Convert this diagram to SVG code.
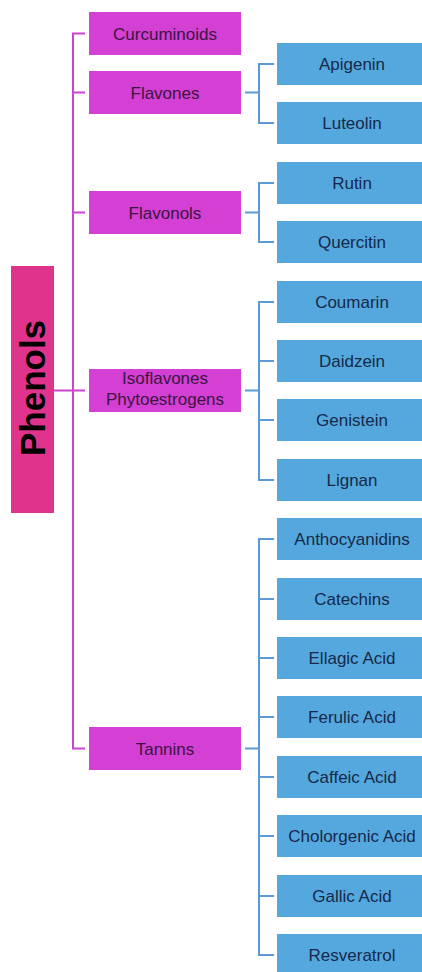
<svg xmlns="http://www.w3.org/2000/svg" width="422" height="972" viewBox="0 0 422 972">
<style>
.mg{fill:#d43fd4}
.bl{fill:#55a8dd}
.ph{fill:#e0338c}
.mt{font-family:"Liberation Sans",Arial,sans-serif;font-size:17px;fill:#3a1640;text-anchor:middle}
.bt{font-family:"Liberation Sans",Arial,sans-serif;font-size:17px;fill:#16294a;text-anchor:middle}
.pt{font-family:"Liberation Sans",Arial,sans-serif;font-size:35px;font-weight:bold;fill:#000;text-anchor:middle}
.lm{fill:none;stroke:#cc44cc;stroke-width:2}
.lb{fill:none;stroke:#5b9bd5;stroke-width:2}
</style>
<rect width="422" height="972" fill="#fff"/>
<g id="connectors">
<path class="lm" d="M54 390.5H73M85 33.5H73V748.5H85M73 92.5H85M73 212.5H85M73 390.5H85"/>
<path class="lb" d="M245 92.5H259M274 64H259V123H274"/>
<path class="lb" d="M245 212.5H259M274 183H259V242H274"/>
<path class="lb" d="M245 390.5H259M274 302H259V480H274M259 361H274M259 420H274"/>
<path class="lb" d="M245 748.5H259M274 539H259V955H274M259 599H274M259 658H274M259 717H274M259 777H274M259 836H274M259 896H274"/>
</g>
<g id="phenols"><rect class="ph" x="11" y="266" width="43" height="247"/><text class="pt" transform="translate(45 388) rotate(-90)">Phenols</text></g>
<g id="curcuminoids"><rect class="mg" x="89" y="12" width="152" height="43"/><text class="mt" x="165" y="39.5">Curcuminoids</text></g>
<g id="flavones"><rect class="mg" x="89" y="71" width="152" height="43"/><text class="mt" x="165" y="98.5">Flavones</text></g>
<g id="flavonols"><rect class="mg" x="89" y="191" width="152" height="43"/><text class="mt" x="165" y="218.5">Flavonols</text></g>
<g id="isoflavones"><rect class="mg" x="89" y="369" width="152" height="43"/><text class="mt" x="165" y="384">Isoflavones</text><text class="mt" x="165" y="405">Phytoestrogens</text></g>
<g id="tannins"><rect class="mg" x="89" y="727" width="152" height="43"/><text class="mt" x="165" y="754.5">Tannins</text></g>
<g id="apigenin"><rect class="bl" x="277" y="43" width="150" height="42"/><text class="bt" x="352" y="70">Apigenin</text></g>
<g id="luteolin"><rect class="bl" x="277" y="102" width="150" height="42"/><text class="bt" x="352" y="129">Luteolin</text></g>
<g id="rutin"><rect class="bl" x="277" y="162" width="150" height="42"/><text class="bt" x="352" y="189">Rutin</text></g>
<g id="quercitin"><rect class="bl" x="277" y="221" width="150" height="42"/><text class="bt" x="352" y="248">Quercitin</text></g>
<g id="coumarin"><rect class="bl" x="277" y="281" width="150" height="42"/><text class="bt" x="352" y="308">Coumarin</text></g>
<g id="daidzein"><rect class="bl" x="277" y="340" width="150" height="42"/><text class="bt" x="352" y="367">Daidzein</text></g>
<g id="genistein"><rect class="bl" x="277" y="399" width="150" height="42"/><text class="bt" x="352" y="426">Genistein</text></g>
<g id="lignan"><rect class="bl" x="277" y="459" width="150" height="42"/><text class="bt" x="352" y="486">Lignan</text></g>
<g id="anthocyanidins"><rect class="bl" x="277" y="518" width="150" height="42"/><text class="bt" x="352" y="545">Anthocyanidins</text></g>
<g id="catechins"><rect class="bl" x="277" y="578" width="150" height="42"/><text class="bt" x="352" y="605">Catechins</text></g>
<g id="ellagic"><rect class="bl" x="277" y="637" width="150" height="42"/><text class="bt" x="352" y="664">Ellagic Acid</text></g>
<g id="ferulic"><rect class="bl" x="277" y="696" width="150" height="42"/><text class="bt" x="352" y="723">Ferulic Acid</text></g>
<g id="caffeic"><rect class="bl" x="277" y="756" width="150" height="42"/><text class="bt" x="352" y="783">Caffeic Acid</text></g>
<g id="cholorgenic"><rect class="bl" x="277" y="815" width="150" height="42"/><text class="bt" x="352" y="842">Cholorgenic Acid</text></g>
<g id="gallic"><rect class="bl" x="277" y="875" width="150" height="42"/><text class="bt" x="352" y="902">Gallic Acid</text></g>
<g id="resveratrol"><rect class="bl" x="277" y="934" width="150" height="42"/><text class="bt" x="352" y="961">Resveratrol</text></g>
</svg>
